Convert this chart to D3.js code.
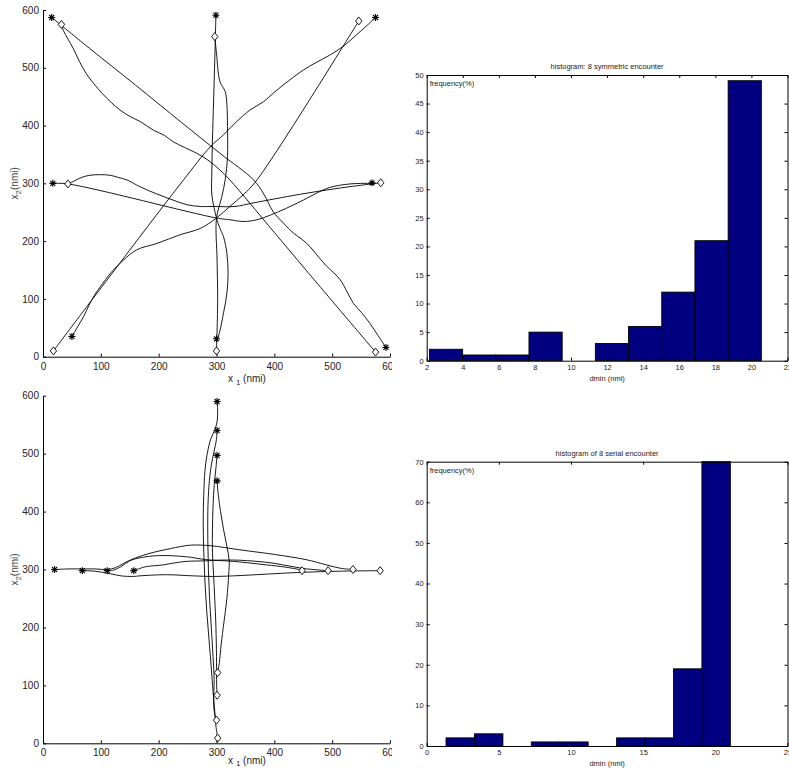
<!DOCTYPE html>
<html>
<head>
<meta charset="utf-8">
<script src="https://cdn.jsdelivr.net/npm/d3@7"></script>
<style>
  body { margin: 0; background: #fff; }
  svg { display: block; }
  text { font-family: "Liberation Sans", Arial, Helvetica, sans-serif; fill: #222; }
</style>
</head>
<body>
<svg id="fig" width="789" height="768"></svg>
<script>
// ---------- trajectory data (nmi) ----------
const posTicks = [0, 100, 200, 300, 400, 500, 600];

// 8-aircraft symmetric encounter: flown tracks
const symTracks = [
  [[15,587],[80,534],[160,470],[240,405],[306,352],[364,306],[382,281],[398,251],[415,232],[433,214],[448,203],[462,190],[477,172],[491,156],[503,145],[514,133],[526,112],[537,92],[551,76],[565,58],[579,37],[593,16]],
  [[32,575],[35,565],[43,550],[52,534],[63,511],[76,488],[90,470],[102,456],[118,440],[133,427],[150,416],[168,407],[191,392],[210,383],[225,372],[245,362],[266,352],[287,339],[306,323],[323,306],[400,215],[480,120],[575,8]],
  [[575,587],[560,573],[542,557],[519,537],[496,522],[472,509],[450,496],[432,483],[415,470],[398,456],[381,441],[358,427],[335,407],[312,384],[289,363],[243,306],[180,224],[120,145],[70,79],[18,10]],
  [[50,35],[60,52],[70,69],[81,92],[90,108],[99,121],[118,146],[139,167],[162,185],[197,196],[237,211],[272,222],[300,240],[323,260],[346,280],[370,306],[546,581]],
  [[17,300],[43,299],[300,240],[323,237],[346,234],[370,237],[393,245],[421,257],[450,271],[473,283],[496,293],[531,299],[570,300]],
  [[43,299],[52,303],[66,310],[81,314],[100,315],[116,314],[131,310],[145,306],[168,294],[196,282],[225,271],[249,263],[272,260],[295,260],[332,260],[363,266],[444,281],[514,292],[584,301]],
  [[299,591],[297,514],[295,444],[293,375],[292,323],[292,280],[300,240],[306,222],[312,208],[318,179],[320,144],[318,110],[312,75],[303,35],[300,31]],
  [[297,554],[300,525],[306,476],[315,459],[318,436],[319,398],[319,346],[315,306],[309,276],[300,240],[301,167],[302,98],[300,10]]
];
const symStars = [[15,587],[299,591],[575,587],[17,300],[569,301],[50,35],[300,31],[593,16]];
const symDiamonds = [[32,575],[297,554],[546,581],[43,299],[584,301],[18,10],[300,10],[575,8]];

// 8-aircraft serial encounter: flown tracks
const serTracks = [
  [[20,300],[45,301],[68,301],[90,301],[111,300],[125,303],[140,311],[160,320],[185,328],[220,336],[255,342],[290,341],[340,334],[400,326],[455,317],[490,308],[515,302],[536,300]],
  [[68,298],[90,297],[115,293],[135,289],[156,288],[167,289],[213,291],[260,289],[294,288],[329,289],[386,292],[444,295],[510,297],[583,298]],
  [[111,298],[122,299],[135,305],[150,315],[167,320],[200,324],[248,322],[282,317],[329,314],[386,308],[420,304],[448,299]],
  [[157,298],[168,302],[179,305],[208,308],[225,311],[248,314],[283,315],[300,316],[340,316],[398,311],[448,302],[492,298]],
  [[301,590],[302,575],[301,555],[297,541],[290,525],[284,500],[280,470],[278,430],[277,380],[278,330],[280,280],[283,230],[287,180],[291,130],[294,90],[297,55],[299,30],[302,9]],
  [[301,540],[300,525],[296,505],[291,480],[287,445],[285,400],[285,350],[286,300],[288,250],[291,200],[294,150],[296,110],[295,70],[297,50],[300,40]],
  [[301,497],[299,475],[296,445],[294,410],[293,370],[293,330],[295,290],[297,250],[299,200],[300,150],[300,110],[301,83]],
  [[301,453],[303,430],[307,400],[312,370],[318,340],[322,315],[321,290],[318,250],[313,210],[308,170],[305,140],[302,122]]
];
const serStars = [[301,590],[301,540],[301,497],[301,453],[20,300],[68,298],[111,298],[157,298]];
const serDiamonds = [[302,122],[301,83],[300,40],[302,9],[448,298],[493,298],[536,300],[583,298]];

// ---------- histogram data (dmin in nmi, frequency in %) ----------
const symBinEdges = [2.15, 3.99, 5.83, 7.67, 9.51, 11.35, 13.19, 15.03, 16.87, 18.71, 20.55];
const symFreq = [2, 1, 1, 5, 0, 3, 6, 12, 21, 49];
const symXTicks = [2, 4, 6, 8, 10, 12, 14, 16, 18, 20, 22];
const symYTicks = [0, 5, 10, 15, 20, 25, 30, 35, 40, 45, 50];

const serBinEdges = [1.34, 3.31, 5.28, 7.25, 9.22, 11.19, 13.16, 15.13, 17.10, 19.07, 21.04];
const serFreq = [2, 3, 0, 1, 1, 0, 2, 2, 19, 70];
const serXTicks = [0, 5, 10, 15, 20, 25];
const serYTicks = [0, 10, 20, 30, 40, 50, 60, 70];

const svg = d3.select("#fig");

// ---------- trajectory panels ----------
function trackPanel(box, tracks, stars, diamonds) {
  const g = svg.append("g");
  const x = d3.scaleLinear().domain([0, 600]).range([box.left, box.right]);
  const y = d3.scaleLinear().domain([0, 600]).range([box.bottom, box.top]);

  const line = d3.line().x(d => x(d[0])).y(d => y(d[1])).curve(d3.curveCatmullRom.alpha(0.5));
  g.selectAll("path.track").data(tracks).join("path")
    .attr("class", "track")
    .attr("d", line)
    .attr("fill", "none").attr("stroke", "#000").attr("stroke-width", 0.9);

  const starPath = "M-3.5,0H3.5M0,-3.5V3.5M-2.5,-2.5L2.5,2.5M-2.5,2.5L2.5,-2.5";
  g.selectAll("path.star").data(stars).join("path")
    .attr("class", "star")
    .attr("transform", d => `translate(${x(d[0])},${y(d[1])})`)
    .attr("d", starPath).attr("stroke", "#000").attr("stroke-width", 1.1).attr("fill", "none");

  const diamondPath = "M0,-4L3.2,0L0,4L-3.2,0Z";
  g.selectAll("path.diamond").data(diamonds).join("path")
    .attr("class", "diamond")
    .attr("transform", d => `translate(${x(d[0])},${y(d[1])})`)
    .attr("d", diamondPath).attr("stroke", "#000").attr("stroke-width", 0.9).attr("fill", "#fff");

  const xAxis = d3.axisBottom(x).tickValues(posTicks).tickSizeInner(-3).tickSizeOuter(0).tickPadding(6);
  const yAxis = d3.axisLeft(y).tickValues(posTicks).tickSizeInner(-3).tickSizeOuter(0).tickPadding(4);
  const gx = g.append("g").attr("transform", `translate(0,${box.bottom})`).call(xAxis);
  const gy = g.append("g").attr("transform", `translate(${box.left},0)`).call(yAxis);
  [gx, gy].forEach(a => {
    a.selectAll("text").attr("font-size", 10).style("fill", "#222")
      .attr("font-family", '"Liberation Sans", Arial, sans-serif');
    a.select(".domain").attr("stroke", "#000");
    a.selectAll(".tick line").attr("stroke", "#000");
  });

  // axis titles with subscripts
  const xl = g.append("text").attr("x", box.xLabelX).attr("y", box.xLabelY)
    .attr("text-anchor", "middle").attr("font-size", 10);
  xl.append("tspan").text("x ");
  xl.append("tspan").attr("dy", box.subDy).attr("font-size", 8).text("1");
  xl.append("tspan").attr("dy", -box.subDy).text(" (nmi)");

  const cy = (box.top + box.bottom) / 2;
  const yl = g.append("text").attr("transform", `translate(18,${cy}) rotate(-90)`)
    .attr("text-anchor", "middle").attr("font-size", 10).style("fill", "#444");
  yl.append("tspan").text("x");
  yl.append("tspan").attr("dy", 3).attr("font-size", 8).text("2");
  yl.append("tspan").attr("dy", -3).text("(nmi)");
}

trackPanel({left: 43, right: 390, top: 10, bottom: 356.7, xLabelX: 247, xLabelY: 382, subDy: 3},
           symTracks, symStars, symDiamonds);
trackPanel({left: 43, right: 390, top: 395.7, bottom: 743.3, xLabelX: 247, xLabelY: 764, subDy: 2},
           serTracks, serStars, serDiamonds);

// right-hand column background
svg.append("rect").attr("x", 392).attr("y", 0).attr("width", 397).attr("height", 768).attr("fill", "#fff");

// ---------- histogram panels ----------
function histPanel(box, edges, freq, xDomain, xTicks, yDomain, yTicks, title) {
  const g = svg.append("g");
  const x = d3.scaleLinear().domain(xDomain).range([box.left, box.right]);
  const y = d3.scaleLinear().domain(yDomain).range([box.bottom, box.top]);
  const bins = freq.map((f, i) => ({x0: edges[i], x1: edges[i + 1], f}));

  g.selectAll("rect.bar").data(bins).join("rect")
    .attr("class", "bar")
    .attr("x", d => x(d.x0)).attr("width", d => x(d.x1) - x(d.x0))
    .attr("y", d => y(d.f)).attr("height", d => y(0) - y(d.f))
    .attr("fill", "#000080").attr("stroke", "#000").attr("stroke-width", 0.9);

  const fs = 7.5;
  const bottom = g.append("g").attr("transform", `translate(0,${box.bottom})`)
    .call(d3.axisBottom(x).tickValues(xTicks).tickSizeInner(-3).tickSizeOuter(0).tickPadding(4));
  const left = g.append("g").attr("transform", `translate(${box.left},0)`)
    .call(d3.axisLeft(y).tickValues(yTicks).tickSizeInner(-3).tickSizeOuter(0).tickPadding(3));
  const top = g.append("g").attr("transform", `translate(0,${box.top})`)
    .call(d3.axisTop(x).tickValues(xTicks).tickSizeInner(-3).tickSizeOuter(0).tickFormat(""));
  const right = g.append("g").attr("transform", `translate(${box.right},0)`)
    .call(d3.axisRight(y).tickValues(yTicks).tickSizeInner(-3).tickSizeOuter(0).tickFormat(""));
  [bottom, left, top, right].forEach(a => {
    a.selectAll("text").attr("font-size", fs).style("fill", "#222")
      .attr("font-family", '"Liberation Sans", Arial, sans-serif');
    a.select(".domain").attr("stroke", "#000");
    a.selectAll(".tick line").attr("stroke", "#000");
  });

  const cx = (box.left + box.right) / 2;
  g.append("text").attr("x", cx).attr("y", box.top - 6).attr("text-anchor", "middle")
    .attr("font-size", fs).text(title);
  g.append("text").attr("x", cx).attr("y", box.bottom + 20).attr("text-anchor", "middle")
    .attr("font-size", fs).text("dmin (nmi)");
  g.append("text").attr("x", box.left + 3).attr("y", box.top + 11)
    .attr("font-size", fs).text("frequency(%)");
}

histPanel({left: 426.7, right: 787.5, top: 75, bottom: 360.7},
          symBinEdges, symFreq, [2, 22], symXTicks, [0, 50], symYTicks,
          "histogram: 8 symmetric encounter");
histPanel({left: 426.7, right: 787.5, top: 461.7, bottom: 746},
          serBinEdges, serFreq, [0, 25], serXTicks, [0, 70], serYTicks,
          "histogram of 8 serial encounter");
</script>
</body>
</html>
